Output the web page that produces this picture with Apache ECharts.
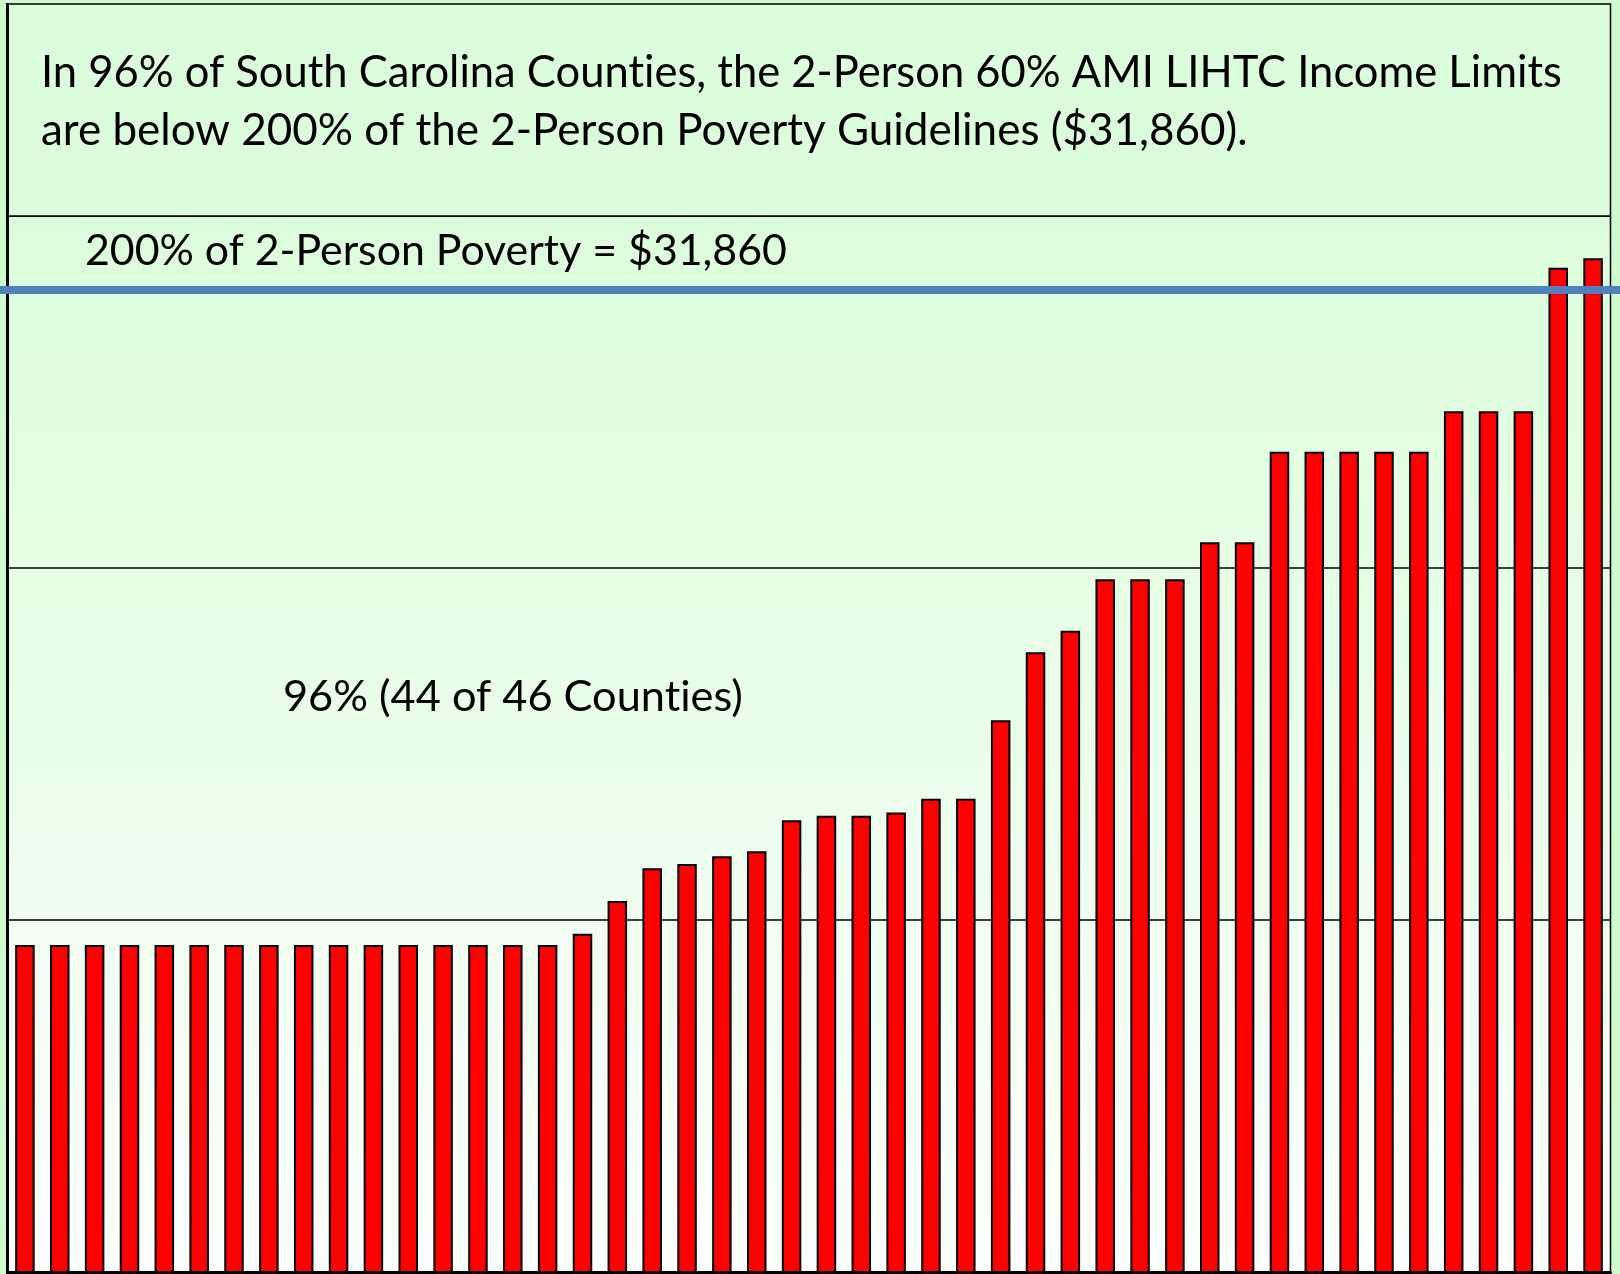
<!DOCTYPE html>
<html>
<head>
<meta charset="utf-8">
<script src="https://cdn.jsdelivr.net/npm/echarts@6/dist/echarts.min.js"></script>
<style>
html,body{margin:0;padding:0;background:#cffccf;}
#c{width:1620px;height:1274px;}
</style>
</head>
<body>
<div id="c"></div>
<script>
// ---- data ----
const categories = ["1","2","3","4","5","6","7","8","9","10","11","12","13","14","15","16",
  "17","18","19","20","21","22","23","24","25","26","27","28","29","30","31","32","33","34",
  "35","36","37","38","39","40","41","42","43","44","45","46"];
const incomeLimits = [24250,24250,24250,24250,24250,24250,24250,24250,24250,24250,24250,24250,24250,24250,24250,24250,
  24380,24760,25140,25190,25280,25340,25700,25750,25750,25790,25950,25950,
  26860,27650,27900,28500,28500,28500,28930,28930,
  29980,29980,29980,29980,29980,30450,30450,30450,32120,32230];
const povertyLine = 31860;
const titleLines = ["In 96% of South Carolina Counties, the 2-Person 60% AMI LIHTC Income Limits",
  "are below 200% of the 2-Person Poverty Guidelines ($31,860)."];
const lineLabel = "200% of 2-Person Poverty = $31,860";
const shareLabel = "96% (44 of 46 Counties)";
const yMin = 20450, yMax = 32720, yStep = 4090;

// ---- text rendering: no ligatures (the original uses a font without the "ti" ligature) ----
(function () {
  const proto = CanvasRenderingContext2D.prototype;
  const origFill = proto.fillText, origMeasure = proto.measureText;
  proto.fillText = function () { try { this.textRendering = 'optimizeSpeed'; } catch (e) {} return origFill.apply(this, arguments); };
  proto.measureText = function () { try { this.textRendering = 'optimizeSpeed'; } catch (e) {} return origMeasure.apply(this, arguments); };
})();

const FONT = "Lato";
function fitSize(text, target) {
  const ctx = document.createElement('canvas').getContext('2d');
  ctx.font = '100px ' + FONT;
  const w = ctx.measureText(text).width;
  return w > 0 ? 100 * target / w : 40;
}

const chart = echarts.init(document.getElementById('c'), null, {renderer: 'canvas'});
const option = {
  animation: false,
  backgroundColor: '#cffccf',
  grid: {
    left: 7.5, right: 9.5, top: 216, bottom: 2,
    show: true,
    borderColor: '#000', borderWidth: 1.5,
    outerBoundsMode: 'none',
    backgroundColor: {
      type: 'linear', x: 0, y: 0, x2: 0, y2: 1,
      colorStops: [{offset: 0, color: '#dcfddc'}, {offset: 0.5, color: '#eafdea'}, {offset: 1, color: '#fcfffc'}]
    }
  },
  xAxis: {
    type: 'category', data: categories,
    axisLine: {show: true, lineStyle: {color: '#000', width: 3}},
    axisTick: {show: false}, axisLabel: {show: false}
  },
  yAxis: {
    type: 'value', min: yMin, max: yMax, interval: yStep,
    axisLine: {show: true, lineStyle: {color: '#000', width: 3}},
    axisTick: {show: false}, axisLabel: {show: false},
    splitLine: {show: true, lineStyle: {color: '#000', width: 1.5}}
  },
  series: [{
    type: 'bar', data: incomeLimits, barWidth: 19.5, silent: true,
    itemStyle: {color: '#ff0000', borderColor: '#000', borderWidth: 2}
  }]
};
chart.setOption(option);

const yLine = chart.convertToPixel({yAxisIndex: 0}, povertyLine);
const W = chart.getWidth();
const titleSize1 = fitSize(titleLines[0], 1521);
const titleSize2 = fitSize(titleLines[1], 1207);
const labelSize = fitSize(lineLabel, 702);
const shareSize = fitSize(shareLabel, 460);

chart.setOption({
  graphic: [
    {type: 'rect', shape: {x: 7.5, y: 4, width: 1603, height: 212},
     style: {fill: '#dcfddc', stroke: '#000', lineWidth: 1.5}, z: 10, silent: true},
    {type: 'line', shape: {x1: 7.5, y1: 3, x2: 7.5, y2: 1274},
     style: {stroke: '#000', lineWidth: 3}, z: 12, silent: true},
    {type: 'text', x: 41, y: 73, z: 20, silent: true,
     style: {text: titleLines[0], fontFamily: FONT, fontSize: titleSize1, fill: '#000', align: 'left', verticalAlign: 'middle'}},
    {type: 'text', x: 41, y: 131, z: 20, silent: true,
     style: {text: titleLines[1], fontFamily: FONT, fontSize: titleSize2, fill: '#000', align: 'left', verticalAlign: 'middle'}},
    {type: 'text', x: 85, y: 251, z: 20, silent: true,
     style: {text: lineLabel, fontFamily: FONT, fontSize: labelSize, fill: '#000', align: 'left', verticalAlign: 'middle'}},
    {type: 'text', x: 283, y: 697, z: 20, silent: true,
     style: {text: shareLabel, fontFamily: FONT, fontSize: shareSize, fill: '#000', align: 'left', verticalAlign: 'middle'}},
    {type: 'line', shape: {x1: 0, y1: yLine, x2: W, y2: yLine},
     style: {stroke: '#4f81bd', lineWidth: 8}, z: 30, silent: true}
  ]
});
</script>
</body>
</html>
